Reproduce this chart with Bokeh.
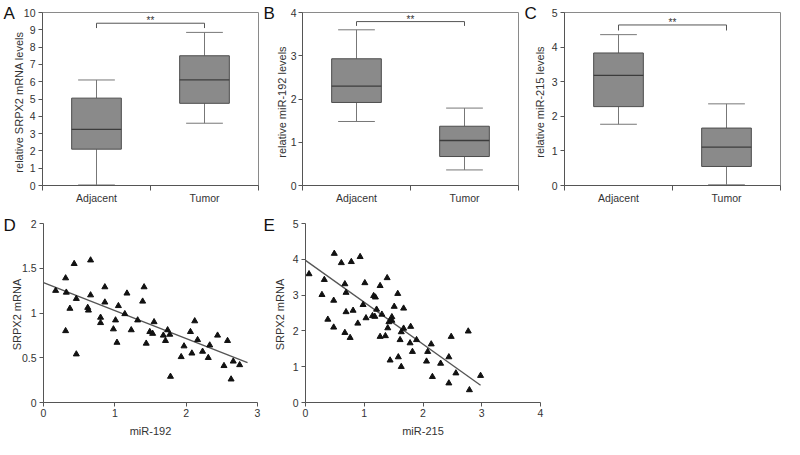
from bokeh.plotting import figure
from bokeh.layouts import column, row
from bokeh.models import FixedTicker, Label, NumeralTickFormatter, Range1d, Title
from bokeh.embed import file_html
from bokeh.resources import INLINE

# ---------------- data ----------------
groups = ["Adjacent", "Tumor"]

# box plot statistics: low whisker, Q1, median, Q3, high whisker
srpx2_low = [0.03, 3.6]
srpx2_q1 = [2.1, 4.75]
srpx2_med = [3.25, 6.1]
srpx2_q3 = [5.05, 7.5]
srpx2_high = [6.1, 8.85]

mir192_low = [1.48, 0.36]
mir192_q1 = [1.92, 0.67]
mir192_med = [2.3, 1.04]
mir192_q3 = [2.93, 1.37]
mir192_high = [3.6, 1.79]

mir215_low = [1.77, 0.02]
mir215_q1 = [2.28, 0.55]
mir215_med = [3.18, 1.11]
mir215_q3 = [3.83, 1.66]
mir215_high = [4.36, 2.36]

# significance brackets (top, tick end)
sig_a = [9.38, 9.1]
sig_b = [3.79, 3.69]
sig_c = [4.64, 4.48]

# scatter D: miR-192 vs SRPX2 mRNA
d_x = [0.17, 0.31, 0.32, 0.31, 0.37, 0.43, 0.46, 0.46, 0.62, 0.63, 0.66, 0.66,
       0.80, 0.80, 0.86, 0.86, 0.98, 1.01, 1.03, 1.05, 1.14, 1.17, 1.23, 1.32,
       1.39, 1.41, 1.44, 1.49, 1.53, 1.55, 1.68, 1.71, 1.74, 1.77, 1.78, 1.93,
       1.97, 2.06, 2.08, 2.12, 2.16, 2.23, 2.31, 2.33, 2.44, 2.53, 2.58, 2.63,
       2.66, 2.75]
d_y = [1.25, 1.39, 1.23, 0.80, 1.05, 1.55, 1.16, 0.54, 1.06, 1.03, 1.59, 1.20,
       0.95, 0.89, 1.29, 1.12, 0.82, 0.92, 0.67, 1.08, 0.99, 1.22, 0.81, 0.92,
       1.13, 1.29, 0.66, 0.79, 0.77, 0.90, 0.75, 0.69, 0.81, 0.76, 0.29, 0.51,
       0.63, 0.79, 0.55, 0.91, 0.70, 0.57, 0.50, 0.64, 0.75, 0.41, 0.69, 0.26,
       0.46, 0.42]
d_fit_x = [0.0, 2.86]
d_fit_y = [1.34, 0.445]

# scatter E: miR-215 vs SRPX2 mRNA
e_x = [0.06, 0.28, 0.32, 0.38, 0.49, 0.48, 0.48, 0.61, 0.67, 0.69, 0.69, 0.67,
       0.78, 0.81, 0.76, 0.89, 0.93, 0.98, 1.01, 1.03, 1.14, 1.16, 1.19, 1.18,
       1.21, 1.27, 1.27, 1.30, 1.39, 1.36, 1.40, 1.42, 1.47, 1.47, 1.57, 1.51,
       1.58, 1.44, 1.61, 1.63, 1.63, 1.67, 1.67, 1.78, 1.79, 1.82, 1.89, 2.08,
       2.06, 2.14, 2.16, 2.30, 2.44, 2.48, 2.44, 2.56, 2.77, 2.79, 2.98]
e_y = [3.59, 3.01, 3.43, 2.32, 4.16, 2.85, 2.10, 3.90, 3.31, 3.07, 2.53, 1.95,
       3.93, 2.57, 1.81, 2.21, 4.07, 2.73, 3.34, 2.36, 2.42, 2.98, 2.94, 2.40,
       2.60, 3.26, 1.84, 2.46, 3.48, 1.86, 2.08, 2.25, 2.39, 2.29, 3.04, 2.68,
       1.27, 1.18, 1.75, 1.97, 1.00, 2.63, 2.07, 1.66, 2.12, 1.42, 1.75, 1.42,
       1.15, 1.63, 0.72, 1.09, 1.27, 1.84, 0.54, 0.82, 1.99, 0.35, 0.75]
e_fit_x = [0.0, 2.98]
e_fit_y = [3.97, 0.48]

# ---------------- styling helpers ----------------
FONT = "Liberation Sans"
centers = [0.5, 1.5]
BOX_HALF = 0.23
CAP_HALF = 0.17


def style_axes(p):
    for ax in (p.xaxis[0], p.yaxis[0]):
        ax.axis_line_color = "#555555"
        ax.major_tick_line_color = "#555555"
        ax.minor_tick_line_color = "#555555"
        ax.major_label_text_font = FONT
        ax.major_label_text_font_size = "10.5px"
        ax.major_label_text_color = "#333333"
        ax.axis_label_text_font = FONT
        ax.axis_label_text_font_size = "11px"
        ax.axis_label_text_font_style = "normal"
        ax.axis_label_text_color = "#333333"
        ax.major_tick_in = 0
        ax.major_tick_out = 4
        ax.minor_tick_in = 0
        ax.minor_tick_out = 0
    p.xgrid.visible = False
    p.ygrid.visible = False


def add_letter(p, letter, offset, standoff):
    p.add_layout(Title(text=letter, align="left", offset=offset, standoff=standoff,
                       text_font=FONT, text_font_size="17px",
                       text_font_style="normal", text_color="#111111"), "above")


def box_panel(width, height, left, right, top, bottom, ymax, ylabel,
              low, q1, med, q3, high, sig, letter, loff, ylab_standoff,
              ytick_standoff):
    p = figure(width=width, height=height, output_backend="svg",
               toolbar_location=None, x_range=Range1d(0, 2),
               y_range=Range1d(0, ymax), min_border_left=left,
               min_border_right=right, min_border_top=top,
               min_border_bottom=bottom)
    p.outline_line_color = "#8a8a8a"
    p.outline_line_width = 1
    style_axes(p)
    p.yaxis.axis_label = ylabel
    p.yaxis.ticker = FixedTicker(ticks=list(range(0, ymax + 1)))
    p.yaxis.major_label_standoff = ytick_standoff
    p.yaxis.axis_label_standoff = ylab_standoff
    p.xaxis.ticker = FixedTicker(ticks=centers, minor_ticks=[0, 1, 2])
    p.xaxis.major_label_overrides = {0.5: groups[0], 1.5: groups[1]}
    p.xaxis.major_tick_out = 0
    p.xaxis.minor_tick_out = 5
    p.xaxis.major_label_standoff = 1

    lefts = [c - BOX_HALF for c in centers]
    rights = [c + BOX_HALF for c in centers]
    cl = [c - CAP_HALF for c in centers]
    cr = [c + CAP_HALF for c in centers]
    # whiskers and caps
    p.segment(x0=centers, y0=low, x1=centers, y1=q1, line_color="#777777", line_width=1)
    p.segment(x0=centers, y0=q3, x1=centers, y1=high, line_color="#777777", line_width=1)
    p.segment(x0=cl, y0=low, x1=cr, y1=low, line_color="#777777", line_width=1)
    p.segment(x0=cl, y0=high, x1=cr, y1=high, line_color="#777777", line_width=1)
    # boxes and medians
    p.quad(left=lefts, right=rights, bottom=q1, top=q3, fill_color="#8a8a8a",
           line_color="#4d4d4d", line_width=1)
    p.segment(x0=lefts, y0=med, x1=rights, y1=med, line_color="#3c3c3c", line_width=1.3)
    # significance bracket
    p.segment(x0=[centers[0], centers[0], centers[1]],
              y0=[sig[0], sig[0], sig[0]],
              x1=[centers[1], centers[0], centers[1]],
              y1=[sig[0], sig[1], sig[1]], line_color="#555555", line_width=1)
    p.add_layout(Label(x=1, y=sig[0], text="**", text_font=FONT,
                       text_font_size="10px", text_align="center",
                       text_baseline="bottom", text_color="#333333", y_offset=-3))
    add_letter(p, letter, loff, -21)
    return p


def scatter_panel(width, height, left, right, top, bottom, xmax, ymax, xticks,
                  yticks, xlabel, xs, ys, fx, fy, letter, loff, ylab_standoff):
    p = figure(width=width, height=height, output_backend="svg",
               toolbar_location=None, x_range=Range1d(0, xmax),
               y_range=Range1d(0, ymax), min_border_left=left,
               min_border_right=right, min_border_top=top,
               min_border_bottom=bottom)
    p.outline_line_color = None
    style_axes(p)
    p.xaxis.axis_label = xlabel
    p.yaxis.axis_label = "SRPX2  mRNA"
    p.xaxis.ticker = FixedTicker(ticks=xticks)
    p.yaxis.ticker = FixedTicker(ticks=yticks)
    p.yaxis.formatter = NumeralTickFormatter(format="0.[0]")
    p.xaxis.major_label_standoff = 2
    p.xaxis.axis_label_standoff = 5
    p.yaxis.major_label_standoff = 3
    p.yaxis.axis_label_standoff = ylab_standoff
    p.line(fx, fy, line_color="#555555", line_width=1.3)
    p.scatter(xs, ys, marker="triangle", size=6, fill_color="#111111",
              line_color="#111111")
    add_letter(p, letter, loff, -22)
    return p


pa = box_panel(261, 214, 42, 3, 12, 29, 10, "relative  SRPX2  mRNA levels",
               srpx2_low, srpx2_q1, srpx2_med, srpx2_q3, srpx2_high, sig_a,
               "A", -39, -4, 3)
pb = box_panel(262, 214, 41, 5, 11, 29, 4, "relative  miR-192  levels",
               mir192_low, mir192_q1, mir192_med, mir192_q3, mir192_high, sig_b,
               "B", -39, 0, 2)
pc = box_panel(261, 214, 41, 4, 12, 29, 5, "relative  miR-215  levels",
               mir215_low, mir215_q1, mir215_med, mir215_q3, mir215_high, sig_c,
               "C", -40, 3, 3)

pd = scatter_panel(261, 225, 43, 4, 9, 33, 3, 2, [0, 1, 2, 3],
                   [0, 0.5, 1, 1.5, 2], "miR-192", d_x, d_y, d_fit_x, d_fit_y,
                   "D", -40, -4)
pe = scatter_panel(523, 225, 44, 244, 8, 33, 4, 5, [0, 1, 2, 3, 4],
                   [0, 1, 2, 3, 4, 5], "miR-215", e_x, e_y, e_fit_x, e_fit_y,
                   "E", -42, 4)

layout = column(row(pa, pb, pc), row(pd, pe))

with open("out.html", "w") as f:
    f.write(file_html(layout, INLINE))
